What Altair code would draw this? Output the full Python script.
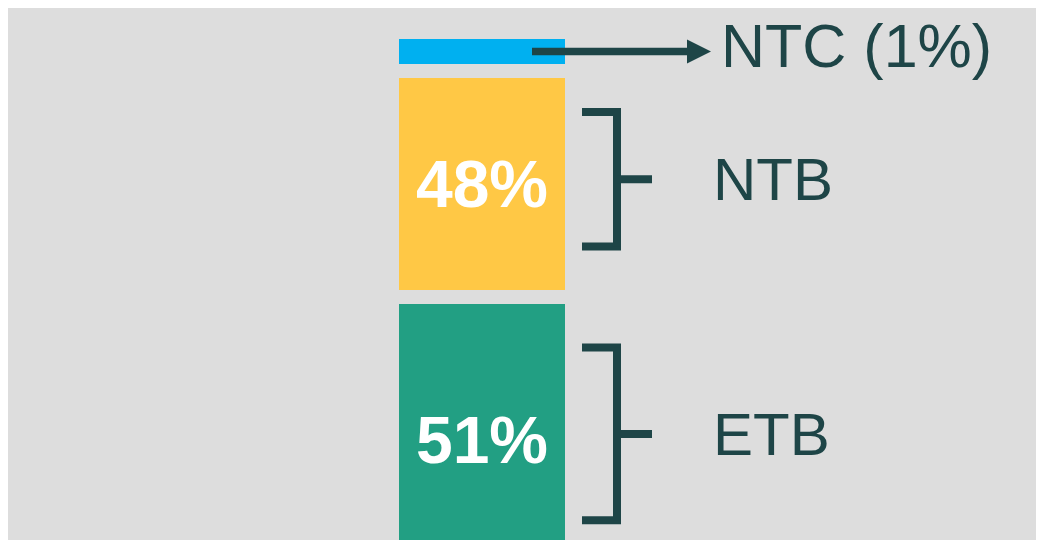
import altair as alt
import pandas as pd

# ---- data ----
categories = ["NTC", "NTB", "ETB"]
shares = [1, 48, 51]
colors = ["#00b0f0", "#ffc845", "#229f83"]
side_labels = ["NTC (1%)", "NTB", "ETB"]
pct_labels = ["", "48%", "51%"]

# ---- layout / style constants (units = percentage points on the y scale) ----
GAP = 3.17          # gap between stacked blocks
MIN_BLOCK = 5.66    # minimum drawn thickness for a tiny share
OPEN_END = 121.6    # the last block runs off the bottom of the frame
VIEW_END = 113.43   # visible part of the y scale
INK = "#1e4547"
BG = "#dddddd"
FONT = "Liberation Sans"

rows = []
pos = 0.0
for i, (c, s) in enumerate(zip(categories, shares)):
    top = pos
    bottom = top + max(s, MIN_BLOCK)
    if i == len(categories) - 1:
        bottom = OPEN_END
    rows.append(dict(cat=c, share=s, color=colors[i], top=top, bottom=bottom,
                     mid=(top + bottom) / 2, side=side_labels[i],
                     pct=pct_labels[i], bar="stack"))
    pos = bottom + GAP
df = pd.DataFrame(rows)
span = df["bottom"] - df["top"]
df["btop"] = df["top"] + 0.16 * span
df["bbot"] = df["bottom"] - 0.205 * span
df["bmid"] = (df["btop"] + df["bbot"]) / 2

yscale = alt.Scale(domain=[0, VIEW_END], reverse=True, nice=False, zero=False)
base = alt.Chart(df)

bars = base.mark_bar().encode(
    x=alt.X("bar:N", scale=alt.Scale(paddingInner=0, paddingOuter=0), axis=None),
    y=alt.Y("top:Q", scale=yscale, axis=None),
    y2="bottom:Q",
    color=alt.Color("color:N", scale=None),
)

pct = base.transform_filter("datum.pct != ''").mark_text(
    font=FONT, fontSize=66, fontWeight="bold", color="white", baseline="middle", dy=3
).encode(
    x=alt.X("bar:N", axis=None),
    y=alt.Y("mid:Q", scale=yscale, axis=None),
    text="pct:N",
)

braces_src = base.transform_filter("datum.cat != 'NTC'")
rule_kw = dict(strokeWidth=8, color=INK, strokeCap="butt")
arm_top = braces_src.mark_rule(**rule_kw).encode(
    x=alt.value(183), x2=alt.value(222), y=alt.Y("btop:Q", scale=yscale, axis=None))
arm_bot = braces_src.mark_rule(**rule_kw).encode(
    x=alt.value(183), x2=alt.value(222), y=alt.Y("bbot:Q", scale=yscale, axis=None))
spine = braces_src.mark_rule(**rule_kw).encode(
    x=alt.value(218), y=alt.Y("btop:Q", scale=yscale, axis=None), y2="bbot:Q")
tip = braces_src.mark_rule(**rule_kw).encode(
    x=alt.value(218), x2=alt.value(253), y=alt.Y("bmid:Q", scale=yscale, axis=None))

ntc_src = base.transform_filter("datum.cat == 'NTC'")
arrow = ntc_src.mark_rule(strokeWidth=7.5, color=INK).encode(
    x=alt.value(133), x2=alt.value(290), y=alt.Y("mid:Q", scale=yscale, axis=None))
head = ntc_src.mark_point(shape="M-1,-1L1,0L-1,1Z", filled=True, size=576,
                          color=INK, opacity=1, strokeWidth=0).encode(
    x=alt.value(300), y=alt.Y("mid:Q", scale=yscale, axis=None))

ntc_label = ntc_src.mark_text(
    font=FONT, fontSize=61, color=INK, align="left", baseline="middle", dy=-2.5
).encode(x=alt.value(322), y=alt.Y("mid:Q", scale=yscale, axis=None), text="side:N")

side_label = braces_src.mark_text(
    font=FONT, fontSize=60, color=INK, align="left", baseline="middle", dy=3
).encode(x=alt.value(314), y=alt.Y("bmid:Q", scale=yscale, axis=None), text="side:N")

chart = alt.layer(
    bars, pct, arm_top, arm_bot, spine, tip, arrow, head, ntc_label, side_label
).properties(
    width=166,
    height=501,
    background=BG,
    padding={"left": 391, "top": 31, "right": 471, "bottom": 0},
    autosize="none",
).configure_view(stroke=None)

chart.save("out.html", embed_options={"renderer": "svg", "actions": False})
